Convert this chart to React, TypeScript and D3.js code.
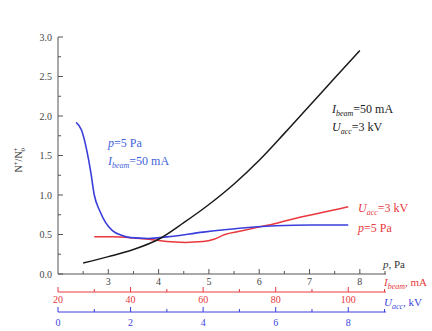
import React from "react";
import * as d3 from "d3";

// N+/N+0 versus pressure (black), beam current (red) and accelerating voltage (blue)
const blackP = [2.5, 3, 3.5, 4, 4.5, 5, 5.5, 6, 6.5, 7, 7.5, 8];
const blackN = [0.14, 0.22, 0.31, 0.44, 0.65, 0.88, 1.14, 1.44, 1.78, 2.13, 2.48, 2.83];

const blueU = [0.5, 0.65, 0.8, 0.9, 1.0, 1.15, 1.3, 1.5, 1.75, 2, 2.5, 3, 4, 5, 6, 7, 8];
const blueN = [1.92, 1.82, 1.55, 1.3, 1.0, 0.8, 0.66, 0.55, 0.49, 0.46, 0.45, 0.47, 0.53, 0.58, 0.61, 0.62, 0.62];

const redI = [30, 35, 40, 45, 50, 55, 60, 63, 66, 70, 75, 80, 85, 90, 95, 100];
const redN = [0.47, 0.47, 0.46, 0.44, 0.41, 0.4, 0.41, 0.44, 0.5, 0.54, 0.59, 0.64, 0.7, 0.75, 0.8, 0.85];

const yTicks = [0, 0.5, 1, 1.5, 2, 2.5, 3];
const pTicks = [3, 4, 5, 6, 7, 8];
const iTicks = [20, 40, 60, 80, 100];
const uTicks = [0, 2, 4, 6, 8];

const RED = "#e8383d";
const BLUE = "#3a3fdc";
const TXTBLUE = "#3f63dd";
const GREY = "#555";

const x0 = 58, x1 = 386;
const yP = 274, yI = 292, yU = 312;

export default function App() {
  const y = d3.scaleLinear().domain([0, 3]).range([274, 37]);
  const xP = d3.scaleLinear().domain([2, 8.52]).range([x0, x1]);
  const xI = d3.scaleLinear().domain([20, 110.4]).range([x0, x1]);
  const xU = d3.scaleLinear().domain([0, 9.04]).range([x0, x1]);

  const mk = (xs: number[], ys: number[], sx: d3.ScaleLinear<number, number>) =>
    d3.line<number>()
      .x((_, i) => sx(xs[i]))
      .y((d) => y(d))
      .curve(d3.curveMonotoneX)(ys) as string;

  const font = "'Liberation Serif', 'DejaVu Serif', serif";
  const sub = (t: string) => (
    <tspan fontStyle="italic" fontSize="8" dy="3">{t}</tspan>
  );

  return (
    <div style={{ position: "absolute", left: 0, top: 0 }}>
      <svg width={432} height={331} style={{ display: "block", background: "#fff" }} fontFamily={font}>
        {/* y axis */}
        <line x1={x0} x2={x0} y1={y(3)} y2={y(0)} stroke={GREY} strokeWidth={1} />
        {d3.range(0, 3.01, 0.25).map((t) => (
          <line key={"ym" + t} x1={x0} x2={x0 + (t % 0.5 === 0 ? 5 : 3)} y1={y(t)} y2={y(t)} stroke={GREY} />
        ))}
        {yTicks.map((t) => (
          <text key={"yt" + t} x={x0 - 6} y={y(t) + 3.5} fontSize="10" textAnchor="end" fill="#444">
            {t.toFixed(1)}
          </text>
        ))}
        <text transform="translate(22,160) rotate(-90)" fontSize="10" textAnchor="middle" fill="#333">
          N<tspan fontSize="7" dy="-4">+</tspan><tspan dy="4">/N</tspan>
          <tspan fontSize="7" dy="-4">+</tspan><tspan fontSize="7" dx="-4" dy="7">0</tspan>
        </text>

        {/* p axis */}
        <line x1={x0} x2={x1} y1={yP} y2={yP} stroke={GREY} strokeWidth={1.2} />
        {d3.range(2.5, 8.6, 0.5).map((t) => (
          <line key={"pm" + t} x1={xP(t)} x2={xP(t)} y1={yP} y2={yP - (t % 1 === 0 ? 5 : 3)} stroke={GREY} />
        ))}
        {pTicks.map((t) => (
          <text key={"pt" + t} x={xP(t)} y={yP + 11} fontSize="10" textAnchor="middle" fill="#444">{t}</text>
        ))}
        <text x={383} y={268} fontSize="11" fill="#333">
          <tspan fontStyle="italic">p</tspan>, Pa
        </text>

        {/* I_beam axis */}
        <line x1={x0} x2={x1} y1={yI} y2={yI} stroke={RED} strokeWidth={1} />
        {d3.range(20, 111, 10).map((t) => (
          <line key={"im" + t} x1={xI(t)} x2={xI(t)} y1={yI} y2={yI - (t % 20 === 0 ? 5 : 3)} stroke={RED} />
        ))}
        {iTicks.map((t) => (
          <text key={"it" + t} x={xI(t)} y={yI + 11} fontSize="10" textAnchor="middle" fill={RED}>{t}</text>
        ))}
        <text x={384} y={286} fontSize="11" fill={RED}>
          <tspan fontStyle="italic">I</tspan>{sub("beam")}<tspan dy="-3">, mA</tspan>
        </text>

        {/* U_acc axis */}
        <line x1={x0} x2={x1} y1={yU} y2={yU} stroke={BLUE} strokeWidth={1} />
        {d3.range(0, 9.01, 1).map((t) => (
          <line key={"um" + t} x1={xU(t)} x2={xU(t)} y1={yU} y2={yU - (t % 2 === 0 ? 5 : 3)} stroke={BLUE} />
        ))}
        {uTicks.map((t) => (
          <text key={"ut" + t} x={xU(t)} y={yU + 14} fontSize="10" textAnchor="middle" fill={BLUE}>{t}</text>
        ))}
        <text x={384} y={306} fontSize="11" fill={BLUE}>
          <tspan fontStyle="italic">U</tspan>{sub("acc")}<tspan dy="-3">, kV</tspan>
        </text>

        {/* curves */}
        <path d={mk(redI, redN, xI)} fill="none" stroke={RED} strokeWidth={1.5} />
        <path d={mk(blueU, blueN, xU)} fill="none" stroke={BLUE} strokeWidth={1.6} />
        <path d={mk(blackP, blackN, xP)} fill="none" stroke="#1a1a1a" strokeWidth={1.5} />

        {/* annotations */}
        <text x={108} y={147} fontSize="12" fill={TXTBLUE}>
          <tspan fontStyle="italic">p</tspan>=5 Pa
        </text>
        <text x={108} y={165} fontSize="12" fill={TXTBLUE}>
          <tspan fontStyle="italic">I</tspan>{sub("beam")}<tspan dy="-3">=50 mA</tspan>
        </text>

        <text x={332} y={113} fontSize="12" fill="#222">
          <tspan fontStyle="italic">I</tspan>{sub("beam")}<tspan dy="-3">=50 mA</tspan>
        </text>
        <text x={332} y={131} fontSize="12" fill="#222">
          <tspan fontStyle="italic">U</tspan>{sub("acc")}<tspan dy="-3">=3 kV</tspan>
        </text>

        <text x={358} y={212} fontSize="12" fill={RED}>
          <tspan fontStyle="italic">U</tspan>{sub("acc")}<tspan dy="-3">=3 kV</tspan>
        </text>
        <text x={358} y={232} fontSize="12" fill={RED}>
          <tspan fontStyle="italic">p</tspan>=5 Pa
        </text>
      </svg>
    </div>
  );
}
